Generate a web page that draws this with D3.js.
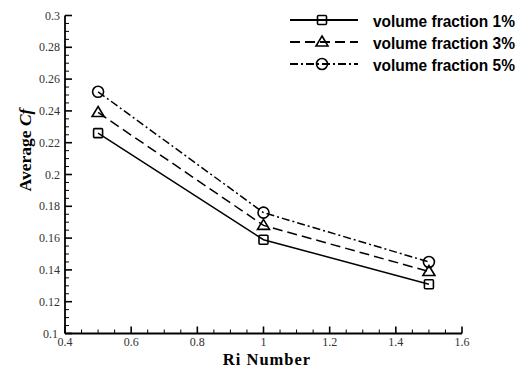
<!DOCTYPE html>
<html>
<head>
<meta charset="utf-8">
<script src="https://cdn.jsdelivr.net/npm/d3@7"></script>
<style>
  html, body { margin: 0; padding: 0; background: #fff; }
  svg { display: block; }
</style>
</head>
<body>
<svg id="chart" width="519" height="368"></svg>
<script>
// Richardson numbers on the x axis
const riNumbers = [0.5, 1.0, 1.5];
// Average skin friction coefficient for each nanofluid volume fraction
const cf1 = [0.226, 0.159, 0.131];
const cf3 = [0.239, 0.168, 0.139];
const cf5 = [0.252, 0.176, 0.145];
const seriesNames = ["volume fraction 1%", "volume fraction 3%", "volume fraction 5%"];
const xTicks = [0.4, 0.6, 0.8, 1.0, 1.2, 1.4, 1.6];
const yTicks = [0.1, 0.12, 0.14, 0.16, 0.18, 0.2, 0.22, 0.24, 0.26, 0.28, 0.3];

const series = [
  { name: seriesNames[0], values: cf1, dash: null, marker: "square" },
  { name: seriesNames[1], values: cf3, dash: "10,5", marker: "triangle" },
  { name: seriesNames[2], values: cf5, dash: "8,3,2,3", marker: "circle" }
];

const svg = d3.select("#chart");
const x = d3.scaleLinear().domain([0.4, 1.6]).range([65, 462]);
const y = d3.scaleLinear().domain([0.1, 0.3]).range([333.5, 15.5]);

const serif = "'Liberation Serif', 'Times New Roman', serif";

// minor ticks
const xMinor = d3.range(0.4, 1.6001, 0.05).filter(v => Math.abs(v * 5 - Math.round(v * 5)) > 1e-6);
const yMinor = d3.range(0.1, 0.3001, 0.005).filter(v => Math.abs(v * 50 - Math.round(v * 50)) > 1e-6);

const axes = svg.append("g").attr("stroke", "#000");
axes.selectAll(".xmin").data(xMinor).join("line")
  .attr("x1", d => x(d)).attr("x2", d => x(d))
  .attr("y1", y(0.1)).attr("y2", y(0.1) - 4).attr("stroke-width", 1);
axes.selectAll(".ymin").data(yMinor).join("line")
  .attr("y1", d => y(d)).attr("y2", d => y(d))
  .attr("x1", x(0.4)).attr("x2", x(0.4) + 4).attr("stroke-width", 1);
axes.selectAll(".xmaj").data(xTicks).join("line")
  .attr("x1", d => x(d)).attr("x2", d => x(d))
  .attr("y1", y(0.1)).attr("y2", y(0.1) - 7).attr("stroke-width", 1.6);
axes.selectAll(".ymaj").data(yTicks).join("line")
  .attr("y1", d => y(d)).attr("y2", d => y(d))
  .attr("x1", x(0.4)).attr("x2", x(0.4) + 7).attr("stroke-width", 1.6);
// axis lines
axes.append("line").attr("x1", x(0.4)).attr("x2", x(1.6))
  .attr("y1", y(0.1)).attr("y2", y(0.1)).attr("stroke-width", 1.8);
axes.append("line").attr("x1", x(0.4)).attr("x2", x(0.4))
  .attr("y1", y(0.1)).attr("y2", y(0.3)).attr("stroke-width", 1.8);

// tick labels
const fmt = d => d3.format("")(+d.toFixed(2));
svg.selectAll(".xl").data(xTicks).join("text")
  .attr("x", d => x(d)).attr("y", 345.5)
  .attr("text-anchor", "middle")
  .attr("font-family", serif).attr("font-size", 12).attr("fill", "#333")
  .text(fmt);
svg.selectAll(".yl").data(yTicks).join("text")
  .attr("x", d => d === 0.1 ? 58 : 60).attr("y", d => y(d) + 4)
  .attr("text-anchor", "end")
  .attr("font-family", serif).attr("font-size", 12).attr("fill", "#333")
  .text(fmt);

// axis titles
svg.append("text")
  .attr("x", 267).attr("y", 364.5).attr("text-anchor", "middle")
  .attr("font-family", serif).attr("font-size", 16.5).attr("font-weight", "bold")
  .attr("letter-spacing", 1)
  .text("Ri Number");
const yt = svg.append("text")
  .attr("transform", "translate(31,150) rotate(-90)")
  .attr("text-anchor", "middle")
  .attr("font-family", serif).attr("font-size", 17.5).attr("font-weight", "bold");
yt.append("tspan").text("Average ");
yt.append("tspan").attr("font-style", "italic").text("Cf");

// markers
function drawMarker(g, type, cx, cy) {
  const common = s => s.attr("fill", "none").attr("stroke", "#000").attr("stroke-width", 1.6);
  if (type === "square") {
    common(g.append("rect").attr("x", cx - 4.5).attr("y", cy - 4.5)
      .attr("width", 9).attr("height", 9).attr("rx", 1));
  } else if (type === "triangle") {
    common(g.append("path").attr("d", `M${cx},${cy - 6}L${cx + 6},${cy + 4}L${cx - 6},${cy + 4}Z`));
  } else {
    common(g.append("circle").attr("cx", cx).attr("cy", cy).attr("r", 5.5));
  }
}

const line = d3.line().x(d => x(d[0])).y(d => y(d[1]));
series.forEach(s => {
  const pts = riNumbers.map((r, i) => [r, s.values[i]]);
  const g = svg.append("g");
  g.append("path").datum(pts).attr("d", line)
    .attr("fill", "none").attr("stroke", "#000").attr("stroke-width", 1.5)
    .attr("stroke-dasharray", s.dash);
  pts.forEach(p => drawMarker(g, s.marker, x(p[0]), y(p[1])));
});

// legend: condensed bold labels, squeezed horizontally to fit the entry width
const legendRows = [20, 42, 64];
const labelWidth = 142;
series.forEach((s, i) => {
  const g = svg.append("g");
  const ly = legendRows[i];
  g.append("line").attr("x1", 290).attr("x2", 358).attr("y1", ly).attr("y2", ly)
    .attr("stroke", "#000").attr("stroke-width", 1.8).attr("stroke-dasharray", s.dash);
  drawMarker(g, s.marker, 322, ly);
  const tg = g.append("g");
  const t = tg.append("text").attr("x", 0).attr("y", 0)
    .attr("font-family", "'Liberation Sans', Arial, sans-serif")
    .attr("font-size", 17).attr("font-weight", "bold")
    .text(s.name);
  const k = labelWidth / t.node().getComputedTextLength();
  tg.attr("transform", `translate(373,${ly + 6.5}) scale(${k},1)`);
});
</script>
</body>
</html>
